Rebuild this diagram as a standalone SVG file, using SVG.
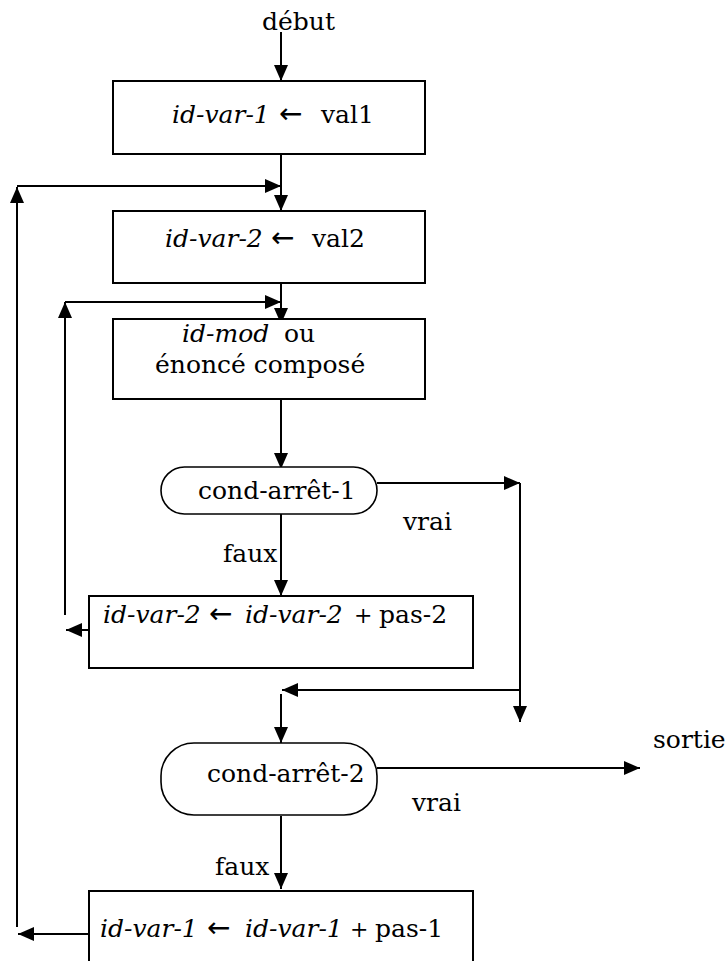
<svg xmlns="http://www.w3.org/2000/svg" width="725" height="961" viewBox="0 0 725 961">
<defs>
<marker id="ah" markerUnits="userSpaceOnUse" markerWidth="17" markerHeight="15" refX="16" refY="7" orient="auto">
<path d="M0,0 L16,7 L0,14 z" fill="#000"/>
</marker>
<style>
.box{fill:#fff;stroke:#000;stroke-width:2}
.cond{fill:#fff;stroke:#000;stroke-width:1.6}
.ln{fill:none;stroke:#000;stroke-width:2;marker-end:url(#ah)}
text{font-family:"DejaVu Serif","Liberation Serif",serif;font-size:25px;fill:#000}
.it{font-style:italic}
.ar{font-family:"DejaVu Sans","Liberation Sans",sans-serif;font-size:28px}
.pl{font-size:22px}
</style>
</defs>
<rect width="725" height="961" fill="#fff"/>
<g id="connectors">
<line class="ln" x1="281" y1="32" x2="281" y2="81"/>
<line class="ln" x1="281" y1="154" x2="281" y2="211"/>
<line class="ln" x1="17" y1="927" x2="17" y2="187"/>
<line class="ln" x1="17" y1="186" x2="281" y2="186"/>
<line class="ln" x1="89" y1="934" x2="18" y2="934"/>
<line class="ln" x1="281" y1="277" x2="281" y2="324"/>
<line class="ln" x1="65" y1="615" x2="65" y2="302"/>
<line class="ln" x1="65" y1="302" x2="281" y2="302"/>
<line class="ln" x1="89" y1="630" x2="66" y2="630"/>
<line class="ln" x1="281" y1="399" x2="281" y2="469"/>
<line class="ln" x1="377" y1="483" x2="520" y2="483"/>
<line class="ln" x1="520" y1="483" x2="520" y2="722"/>
<line class="ln" x1="520" y1="690" x2="282" y2="690"/>
<line class="ln" x1="281" y1="694" x2="281" y2="743"/>
<line class="ln" x1="281" y1="514" x2="281" y2="596"/>
<line class="ln" x1="377" y1="768" x2="640" y2="768"/>
<line class="ln" x1="281" y1="816" x2="281" y2="889"/>
</g>
<g id="start"><text x="262" y="30">début</text></g>
<g id="box1">
<rect class="box" x="113" y="81" width="312" height="73"/>
<text y="123"><tspan class="it" x="172">id-var-1</tspan><tspan class="ar" x="279">←</tspan><tspan x="321">val1</tspan></text>
</g>
<g id="box2">
<rect class="box" x="113" y="211" width="312" height="72"/>
<text y="247"><tspan class="it" x="165">id-var-2</tspan><tspan class="ar" x="271">←</tspan><tspan x="312">val2</tspan></text>
</g>
<g id="box3">
<rect class="box" x="113" y="319" width="312" height="80"/>
<text y="342"><tspan class="it" x="182">id-mod</tspan><tspan x="284">ou</tspan></text>
<text x="155" y="373">énoncé composé</text>
</g>
<g id="cond1">
<rect class="cond" x="161" y="467" width="216" height="47" rx="23.5" ry="23.5"/>
<text x="198" y="499">cond-arrêt-1</text>
</g>
<g id="labels1">
<text x="403" y="530">vrai</text>
<text x="223" y="562">faux</text>
</g>
<g id="box4">
<rect class="box" x="89" y="596" width="384" height="72"/>
<text y="623"><tspan class="it" x="103">id-var-2</tspan><tspan class="ar" x="209">←</tspan><tspan class="it" x="245">id-var-2</tspan><tspan class="pl" x="354">+</tspan><tspan x="379">pas-2</tspan></text>
</g>
<g id="cond2">
<rect class="cond" x="161" y="743" width="216" height="72" rx="33" ry="33"/>
<text x="207" y="782">cond-arrêt-2</text>
</g>
<g id="labels2">
<text x="653" y="748">sortie</text>
<text x="412" y="811">vrai</text>
<text x="215" y="875">faux</text>
</g>
<g id="box5">
<rect class="box" x="89" y="891" width="384" height="80"/>
<text y="937"><tspan class="it" x="100">id-var-1</tspan><tspan class="ar" x="207">←</tspan><tspan class="it" x="245">id-var-1</tspan><tspan class="pl" x="350">+</tspan><tspan x="375">pas-1</tspan></text>
</g>
</svg>
